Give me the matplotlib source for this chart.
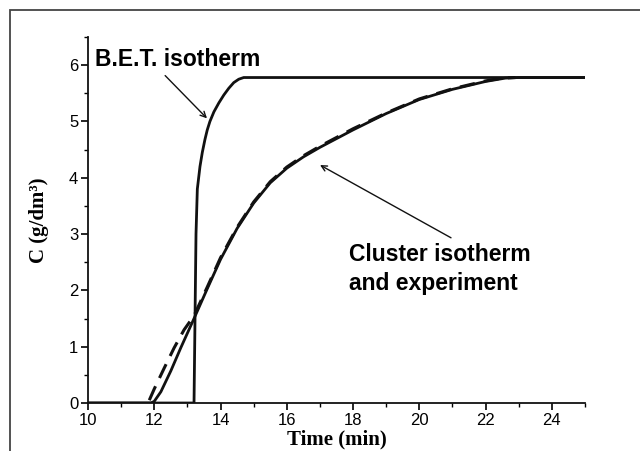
import matplotlib
matplotlib.use('Agg')
import matplotlib.pyplot as plt
from matplotlib.patches import Rectangle
from matplotlib.ticker import MultipleLocator

# BET isotherm curve
bet_t = [10.0, 13.2, 13.22, 13.26, 13.3, 13.38, 13.45, 13.53, 13.6, 13.68, 13.8, 13.95, 14.1, 14.25,
         14.4, 14.55, 14.7, 25.0]
bet_c = [0.0, 0.0, 1.0, 3.0, 3.8, 4.2, 4.45, 4.68, 4.85, 5.0, 5.17, 5.33, 5.47, 5.59,
         5.69, 5.75, 5.78, 5.78]

# cluster isotherm (solid)
clu_t = [10.0, 11.9, 12.0, 12.2, 12.5, 12.8, 13.2, 13.6, 14.0, 14.5, 15.0, 15.5, 16.0, 16.5, 17.0, 18.0,
         19.0, 20.0, 21.0, 22.0, 22.6, 23.0, 25.0]
clu_c = [0.0, 0.0, 0.03, 0.2, 0.57, 0.98, 1.5, 2.03, 2.55, 3.1, 3.55, 3.91, 4.17, 4.37, 4.54, 4.85,
         5.14, 5.39, 5.57, 5.71, 5.77, 5.78, 5.78]

# experiment (dashed)
exp_t = [11.85, 12.0, 12.3, 12.6, 12.9, 13.2, 13.6, 14.0, 14.5, 15.0, 15.5, 16.0, 16.5, 17.0, 18.0,
         19.0, 20.0, 21.0, 22.0, 22.5, 22.9]
exp_c = [0.05, 0.25, 0.62, 0.98, 1.3, 1.55, 2.06, 2.58, 3.12, 3.57, 3.93, 4.19, 4.39, 4.56, 4.87,
         5.15, 5.4, 5.58, 5.72, 5.77, 5.78]

fig = plt.figure(figsize=(6.4, 4.51), dpi=100)
ax = fig.add_axes([0.1375, 0.1064, 0.7765, 0.8116])

ax.plot(bet_t, bet_c, color='#111111', lw=2.0)
ax.plot(clu_t, clu_c, color='#111111', lw=2.0)
ax.plot(exp_t, exp_c, color='#111111', lw=2.2, dashes=(5, 3))

ax.set_xlim(10, 25)
ax.set_ylim(0, 6.5)
for s in ['top', 'right']:
    ax.spines[s].set_visible(False)
for s in ['left', 'bottom']:
    ax.spines[s].set_linewidth(1.3)
    ax.spines[s].set_color('#111111')

ax.xaxis.set_major_locator(MultipleLocator(2))
ax.xaxis.set_minor_locator(MultipleLocator(1))
ax.yaxis.set_major_locator(MultipleLocator(1))
ax.yaxis.set_minor_locator(MultipleLocator(0.5))
ax.tick_params(which='major', direction='out', length=5, width=1.2, labelsize=12, pad=2)
ax.tick_params(which='minor', direction='out', length=3, width=1.0)
for lab in ax.get_xticklabels() + ax.get_yticklabels():
    lab.set_family('Liberation Sans')

ax.set_xlabel('Time (min)', family='Liberation Serif', fontweight='bold', fontsize=15, labelpad=1)
ax.set_ylabel('C (g/dm³)', family='Liberation Serif', fontweight='bold', fontsize=15, labelpad=14)

ax.text(10.22, 6.1, 'B.E.T. isotherm', family='Liberation Sans', fontweight='bold',
        fontsize=16.5, va='center', ha='left')
ax.text(17.88, 2.38, 'Cluster isotherm\nand experiment', family='Liberation Sans', fontweight='bold',
        fontsize=16.5, va='center', ha='left', linespacing=1.3)

ax.annotate('', xy=(13.65, 5.02), xytext=(12.27, 5.85),
            arrowprops=dict(arrowstyle='->', color='#111111', lw=1.0))
ax.annotate('', xy=(16.93, 4.25), xytext=(21.03, 2.91),
            arrowprops=dict(arrowstyle='->', color='#111111', lw=1.0))

# outer frame of the scanned figure
fig.add_artist(Rectangle((10 / 640, -0.1), 1.2, 1 - 10 / 451 + 0.1, transform=fig.transFigure,
                         fill=False, edgecolor='#444444', lw=1.3))

fig.savefig('out.png', dpi=100)
